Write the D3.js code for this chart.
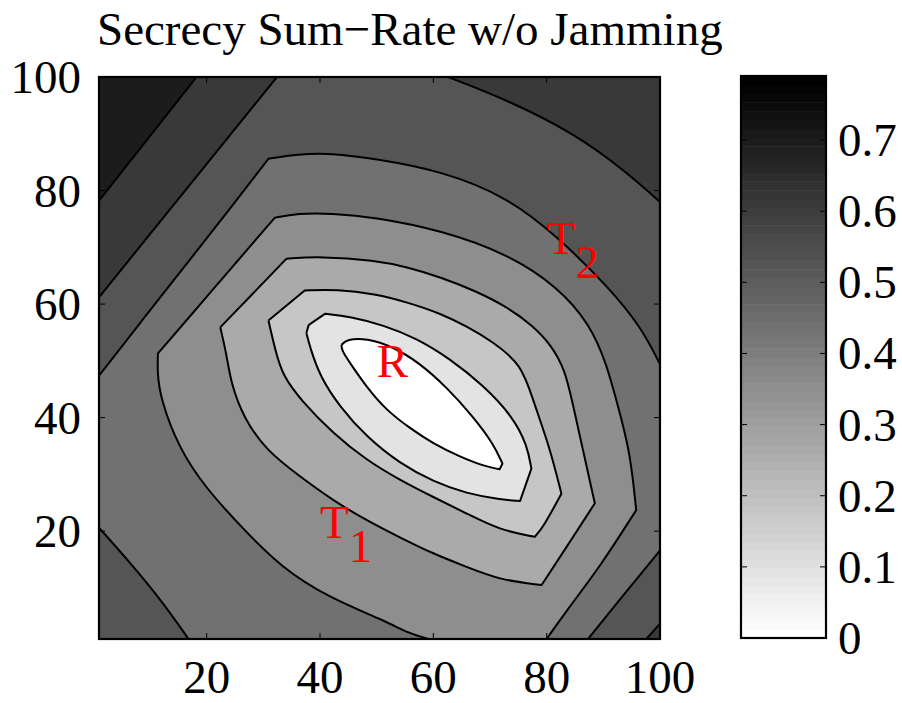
<!DOCTYPE html>
<html>
<head>
<meta charset="utf-8">
<script src="https://cdn.jsdelivr.net/npm/d3@7"></script>
<style>
  body { margin: 0; background: #fff; }
  text { font-family: "Liberation Serif", "Times New Roman", serif; }
</style>
</head>
<body>
<svg id="chart" width="902" height="703"></svg>
<script>
// Colour range and contour levels (9 bands between 0 and the max).
const zMax = 0.79;
const levels = [0.088, 0.176, 0.263, 0.351, 0.439, 0.527, 0.614, 0.702];
const xTicks = [20, 40, 60, 80, 100];
const yTicks = [20, 40, 60, 80, 100];
const barTicks = [0, 0.1, 0.2, 0.3, 0.4, 0.5, 0.6, 0.7];
const nodes = [
  { name: "T", sub: "1", x: 40, y: 20 },
  { name: "R", sub: "", x: 50, y: 50 },
  { name: "T", sub: "2", x: 80, y: 70 },
];

// Contour lines, in data units [x, y].
// A third entry marks a corner of the line.
// level 1 (white core), closed
const c1 = [[43.8,52.8,1],[44.7,53.8],[48.2,54.0],[52.9,52.5],[57.6,49.6],[62.3,45.4],[67,40.2],
  [70.6,35.4],[72.2,31.9,1],[71.7,30.9,1],[69.4,31.3],[64.7,33.1],[60,35.4],[55.9,38.1],[51.7,41.3],
  [48.2,45.4],[45.3,49.6],[43.8,51.9]];
// level 2, closed
const c2 = [[37.6,54.9,1],[38,56.3,1],[40.9,58.3,1],[45.3,57.8],[51.2,56.3],[57,54],[62.9,50.4],[68.8,45.7],
  [74.1,40.1],[76.6,35],[77.3,31,1],[75.3,25.3,1],[71.7,25.6],[65.9,26.6],[60,28.7],[54.1,31.9],
  [48.2,36.6],[43.5,41.9],[40,47.2],[38.2,52.5]];
// level 3, closed
const c3 = [[30.9,57.1,1],[37.3,62.4,1],[43,62.6],[49.7,61.8],[55.5,60.3],[61.4,58.3],[66,56],[70.3,53.5],
  [75.6,49.4],[77.6,43],[80.5,34.9],[82.6,26.6,1],[79.4,20.7],[77.9,19.0,1],[71.7,20.2],[65.9,23.1],[60,26],
  [54.1,29],[48.2,32.5],[42.3,37.2],[36.5,43.2],[33.4,47.5],[32.2,51.5]];
// level 4, closed
const c4 = [[22.4,55.9,1],[28.2,61.9],[34.1,68,1],[40,68.4],[49.7,67.7],[55.5,66.5],[61.4,64.7],[67.5,62.3],
  [73.2,59.4],[77.5,56.2],[80.8,52.8],[83.2,48.5],[84.6,42.5],[86.4,34.3],[88.5,24.9,1],[83.5,17.2],
  [79.1,10.5,1],[71.7,11.4],[65.9,13.7],[60,16],[54.1,18.9],[48.2,21.9],[42.3,25.4],[36.5,29.6],
  [30.5,34.2],[26.5,40],[24.3,46],[23.5,51.2]];
// level 5, from the bottom edge round to the bottom edge
const c5 = [[80,1],[83.5,6],[89.4,13.7],[95.8,23.7,1],[94.7,34.3],[92.3,43],[90.6,49.4],[87.6,56.5],[82,63],
  [73.2,68.8],[61.4,73],[49.7,75.3],[42,76],[36,76],[32,75.2,1],[25.1,67.2],[18.3,59.3],[11.4,51.3,1],
  [11.3,48],[11.8,43.5],[15,34.8],[19.7,27.7],[26.8,20],[33.2,13.6],[41.5,8.3],[51.5,4.2],
  [55.6,2],[59.1,1]];
// level 6: left edge to right edge, bottom-right piece, bottom-left piece
const c6a = [[1,47.4],[8.5,57],[16,66.5],[23.5,76],[30.9,85.6,1],[36,86.4],[42,86.6],[49.7,85.6],
  [61.4,83.5],[73.2,78.8],[82,71.8],[90.9,63],[96.7,55.9],[100,49.4]];
const c6c = [[100,16.6],[93.6,8.8],[87.3,1]];
const c6b = [[16.8,1],[12.1,7.7],[6.2,14.8],[1,20.6]];
// level 7: top-left diagonal, top-right arc, bottom-right corner
const c7a = [[1,61.2],[16.7,80.6],[32.4,100]];
const c7b = [[62.6,100],[73.2,95.9],[85,90],[93.8,83.5],[100,78]];
const c7c = [[100,3.7],[97.6,1]];
// level 8: top-left corner
const c8 = [[1,78.2],[9.6,89.1],[18.2,100]];

const svg = d3.select("#chart");
const x = d3.scaleLinear().domain([1, 100]).range([99, 660]);
const y = d3.scaleLinear().domain([1, 100]).range([639, 77]);
const cb = d3.scaleLinear().domain([0, zMax]).range([638, 76]);
const gray = d3.scaleLinear().domain([0, zMax]).range(["#ffffff", "#000000"]);
const bandColor = (k) => gray(k === 0 ? 0 : levels[k - 1]);
const fs = 47;

const [x0, x1] = x.domain();
const [y0, y1] = y.domain();

// Corners are repeated so the B-spline passes through them sharply.
const sharpen = (pts) => pts.flatMap((p) => (p[2] ? [p, p, p] : [p]));

let openLine = d3.line().x((d) => x(d[0])).y((d) => y(d[1])).curve(d3.curveBasis);
let closedLine = d3.line().x((d) => x(d[0])).y((d) => y(d[1])).curve(d3.curveBasisClosed);
const open = (pts) => openLine(sharpen(pts));
const closed = (pts) => closedLine(sharpen(pts));

// Join contour pieces and plot corners into one closed outline.
function region(...parts) {
  return parts.map((p, i) => {
    if (Array.isArray(p[0])) {
      let s = open(p);
      return i ? s.replace(/^M/, "L") : s;
    }
    return `L${x(p[0])},${y(p[1])}`;
  }).join("") + "Z";
}

svg.append("clipPath").attr("id", "plot-clip")
  .append("rect")
  .attr("x", x(x0)).attr("y", y(y1))
  .attr("width", x(x1) - x(x0)).attr("height", y(y0) - y(y1));

let plot = svg.append("g").attr("clip-path", "url(#plot-clip)");

// Bands, painted from the outside in.
plot.append("rect")
  .attr("x", x(x0)).attr("y", y(y1))
  .attr("width", x(x1) - x(x0)).attr("height", y(y0) - y(y1))
  .attr("fill", bandColor(7));

let bands = [
  { d: region(c8, [x0, y1]), k: 8 },
  { d: region(c7a, c7b, c7c, [x0, y0]), k: 6 },
  { d: region(c6a, c6c, c6b), k: 5 },
  { d: region(c5), k: 4 },
  { d: closed(c4), k: 3 },
  { d: closed(c3), k: 2 },
  { d: closed(c2), k: 1 },
  { d: closed(c1), k: 0 },
];

plot.selectAll("path.band")
  .data(bands)
  .enter().append("path")
  .attr("class", "band")
  .attr("d", (d) => d.d)
  .attr("fill", (d) => bandColor(d.k));

// Contour lines on top.
let lines = [c8, c7a, c7b, c7c, c6a, c6b, c6c, c5].map(open)
  .concat([c4, c3, c2, c1].map(closed));

plot.selectAll("path.line")
  .data(lines)
  .enter().append("path")
  .attr("class", "line")
  .attr("d", (d) => d)
  .attr("fill", "none")
  .attr("stroke", "#000")
  .attr("stroke-width", 2)
  .attr("stroke-linejoin", "round");

// Frame and inward ticks.
svg.append("rect")
  .attr("x", x(x0)).attr("y", y(y1))
  .attr("width", x(x1) - x(x0)).attr("height", y(y0) - y(y1))
  .attr("fill", "none").attr("stroke", "#000").attr("stroke-width", 2.2);

let tick = 6;
xTicks.forEach((t) => {
  svg.append("line").attr("x1", x(t)).attr("x2", x(t)).attr("y1", y(y0)).attr("y2", y(y0) - tick).attr("stroke", "#000");
  svg.append("line").attr("x1", x(t)).attr("x2", x(t)).attr("y1", y(y1)).attr("y2", y(y1) + tick).attr("stroke", "#000");
});
yTicks.forEach((t) => {
  svg.append("line").attr("x1", x(x0)).attr("x2", x(x0) + tick).attr("y1", y(t)).attr("y2", y(t)).attr("stroke", "#000");
  svg.append("line").attr("x1", x(x1)).attr("x2", x(x1) - tick).attr("y1", y(t)).attr("y2", y(t)).attr("stroke", "#000");
});

svg.selectAll("text.xlab")
  .data(xTicks)
  .enter().append("text")
  .attr("x", (d) => x(d)).attr("y", 693)
  .attr("text-anchor", "middle")
  .attr("font-size", fs)
  .text((d) => d);

svg.selectAll("text.ylab")
  .data(yTicks)
  .enter().append("text")
  .attr("x", 81).attr("y", (d) => y(d) + 16)
  .attr("text-anchor", "end")
  .attr("font-size", fs)
  .text((d) => d);

// Node labels.
let lab = svg.selectAll("text.node")
  .data(nodes)
  .enter().append("text")
  .attr("x", (d) => x(d.x))
  .attr("y", (d) => y(d.y) + (d.sub ? 7 : 16))
  .attr("fill", "#ff0000")
  .attr("font-size", fs);
lab.append("tspan").text((d) => d.name);
lab.append("tspan").attr("dy", 24).text((d) => d.sub);

// Title.
svg.append("text")
  .attr("x", 97).attr("y", 45)
  .attr("font-size", fs)
  .text("Secrecy Sum\u2212Rate w/o Jamming");

// Colour bar.
let cbx0 = 741, cbx1 = 826;
let steps = d3.range(64);
svg.selectAll("rect.cb")
  .data(steps)
  .enter().append("rect")
  .attr("x", cbx0)
  .attr("width", cbx1 - cbx0)
  .attr("y", (i) => cb(((i + 1) * zMax) / 64))
  .attr("height", (i) => cb((i * zMax) / 64) - cb(((i + 1) * zMax) / 64) + 0.5)
  .attr("fill", (i) => gray((i / 63) * zMax));

svg.append("rect")
  .attr("x", cbx0).attr("y", cb(zMax))
  .attr("width", cbx1 - cbx0).attr("height", cb(0) - cb(zMax))
  .attr("fill", "none").attr("stroke", "#000").attr("stroke-width", 2.2);

barTicks.forEach((t) => {
  svg.append("line").attr("x1", cbx0).attr("x2", cbx0 + tick).attr("y1", cb(t)).attr("y2", cb(t)).attr("stroke", "#000");
  svg.append("line").attr("x1", cbx1).attr("x2", cbx1 - tick).attr("y1", cb(t)).attr("y2", cb(t)).attr("stroke", "#000");
});

svg.selectAll("text.cblab")
  .data(barTicks)
  .enter().append("text")
  .attr("x", 838).attr("y", (d) => cb(d) + 16)
  .attr("font-size", fs)
  .text((d) => d);
</script>
</body>
</html>
